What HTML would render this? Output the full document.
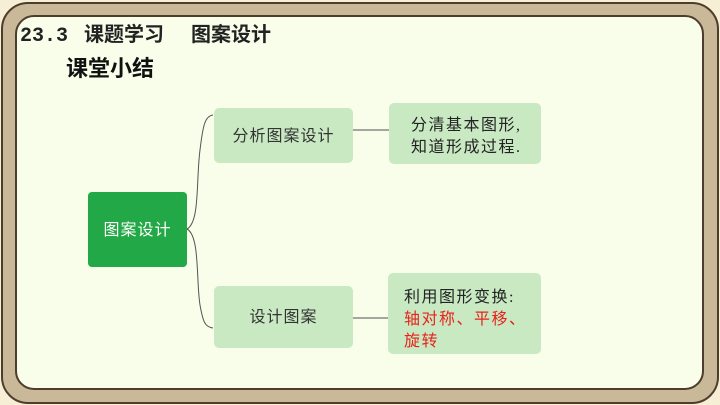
<!DOCTYPE html>
<html><head><meta charset="utf-8"><style>
html,body{margin:0;padding:0;width:720px;height:405px;overflow:hidden;background:#f6efd6;}
svg{display:block}
text{font-family:"Liberation Serif","Noto Sans CJK SC",serif;}
</style></head><body>
<svg width="720" height="405" viewBox="0 0 720 405" xmlns="http://www.w3.org/2000/svg">
<rect x="0" y="0" width="720" height="405" fill="#f6efd6"/>
<rect x="2" y="3" width="716" height="400" rx="26" fill="#c9b999" stroke="#4e3d2c" stroke-width="2"/>
<rect x="16" y="16" width="687" height="373" rx="18" fill="#f8fee9" stroke="#4e3d2c" stroke-width="2"/>
<text x="20" y="41" font-size="20" fill="#222" font-weight="bold" style="font-family:'Liberation Mono','Noto Sans CJK SC',monospace">23.3</text>
<text x="84" y="41" font-size="20" fill="#222" font-weight="bold">课题学习</text>
<text x="191" y="41" font-size="20" fill="#222" font-weight="bold">图案设计</text>
<text x="66" y="76" font-size="22" font-weight="bold" fill="#111" style="font-family:'Noto Sans CJK SC',sans-serif">课堂小结</text>
<path d="M187,229 C200,222 196,180 200,150 C203,125 205,116 213,115" fill="none" stroke="#555" stroke-width="1"/>
<path d="M187,229 C200,236 196,280 200,305 C203,322 205,327 213,328" fill="none" stroke="#555" stroke-width="1"/>
<line x1="353" y1="130" x2="389" y2="130" stroke="#888" stroke-width="1.5"/>
<line x1="353" y1="318" x2="388" y2="318" stroke="#888" stroke-width="1.5"/>
<rect x="88" y="192" width="99" height="75" rx="4" fill="#22a846"/>
<text x="137.5" y="235" font-size="16" fill="#fff" text-anchor="middle" letter-spacing="1">图案设计</text>
<rect x="214" y="108" width="139" height="55" rx="5" fill="#c9e9c3"/>
<text x="283.5" y="141" font-size="16" fill="#333" text-anchor="middle" letter-spacing="1">分析图案设计</text>
<rect x="389" y="103" width="152" height="61" rx="5" fill="#c9e9c3"/>
<text x="411" y="130" font-size="16" fill="#222" letter-spacing="1.5">分清基本图形,</text>
<text x="411" y="152" font-size="16" fill="#222" letter-spacing="1.5">知道形成过程.</text>
<rect x="214" y="286" width="139" height="62" rx="5" fill="#c9e9c3"/>
<text x="283.5" y="322" font-size="16" fill="#333" text-anchor="middle" letter-spacing="1">设计图案</text>
<rect x="388" y="273" width="153" height="81" rx="5" fill="#c9e9c3"/>
<text x="404" y="302" font-size="16" fill="#222" letter-spacing="1.5">利用图形变换:</text>
<text x="404" y="324" font-size="16" fill="#e8221c" letter-spacing="1.5">轴对称、平移、</text>
<text x="404" y="346" font-size="16" fill="#e8221c" letter-spacing="1.5">旋转</text>
</svg>
</body></html>
